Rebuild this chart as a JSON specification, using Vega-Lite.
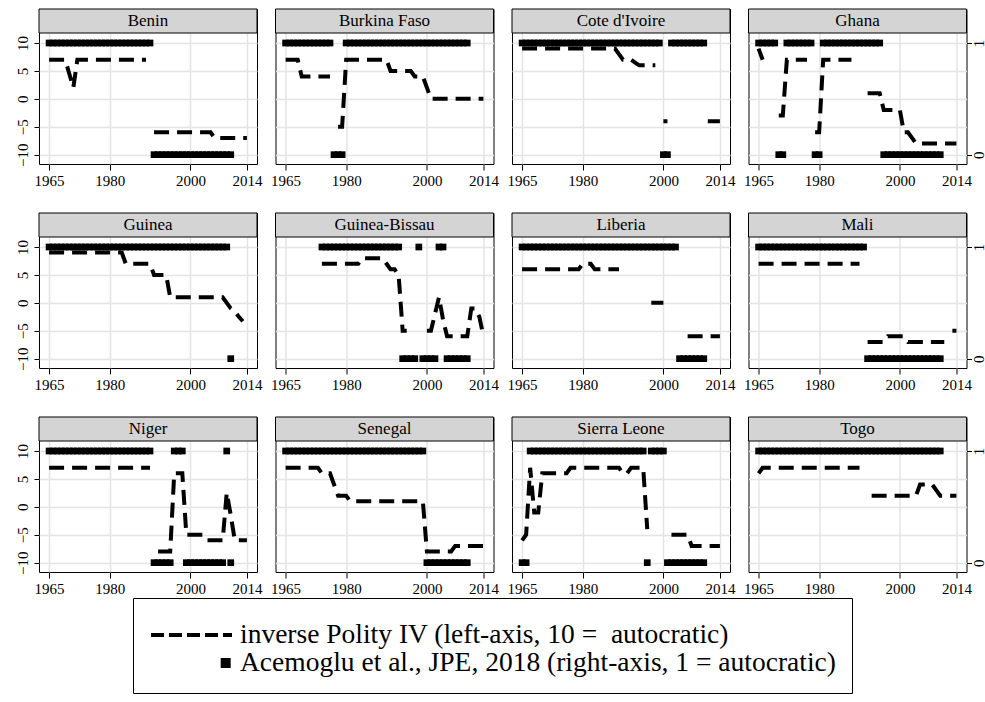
{
  "$schema": "https://vega.github.io/schema/vega-lite/v6.json",
  "padding": {"left": 14, "top": 8, "right": 0, "bottom": 0},
  "background": "white",
  "config": {
    "font": "Liberation Serif",
    "view": {"stroke": "black", "strokeWidth": 1},
    "axis": {"labelFont": "Liberation Serif", "labelFontSize": 15, "labelColor": "black", "tickColor": "black", "tickWidth": 1, "domain": false, "gridColor": "#e4e4e4", "gridWidth": 1.5},
    "text": {"font": "Liberation Serif"}
  },
  "datasets": {
    "benin": [{"year":1965,"polity":7,"acem":1},{"year":1966,"polity":7,"acem":1},{"year":1967,"polity":7,"acem":1},{"year":1968,"polity":7,"acem":1},{"year":1969,"polity":7,"acem":1},{"year":1970,"polity":4.5,"acem":1},{"year":1971,"polity":2,"acem":1},{"year":1972,"polity":7,"acem":1},{"year":1973,"polity":7,"acem":1},{"year":1974,"polity":7,"acem":1},{"year":1975,"polity":7,"acem":1},{"year":1976,"polity":7,"acem":1},{"year":1977,"polity":7,"acem":1},{"year":1978,"polity":7,"acem":1},{"year":1979,"polity":7,"acem":1},{"year":1980,"polity":7,"acem":1},{"year":1981,"polity":7,"acem":1},{"year":1982,"polity":7,"acem":1},{"year":1983,"polity":7,"acem":1},{"year":1984,"polity":7,"acem":1},{"year":1985,"polity":7,"acem":1},{"year":1986,"polity":7,"acem":1},{"year":1987,"polity":7,"acem":1},{"year":1988,"polity":7,"acem":1},{"year":1989,"polity":7,"acem":1},{"year":1990,"polity":null,"acem":1},{"year":1991,"polity":-6,"acem":0},{"year":1992,"polity":-6,"acem":0},{"year":1993,"polity":-6,"acem":0},{"year":1994,"polity":-6,"acem":0},{"year":1995,"polity":-6,"acem":0},{"year":1996,"polity":-6,"acem":0},{"year":1997,"polity":-6,"acem":0},{"year":1998,"polity":-6,"acem":0},{"year":1999,"polity":-6,"acem":0},{"year":2000,"polity":-6,"acem":0},{"year":2001,"polity":-6,"acem":0},{"year":2002,"polity":-6,"acem":0},{"year":2003,"polity":-6,"acem":0},{"year":2004,"polity":-6,"acem":0},{"year":2005,"polity":-6,"acem":0},{"year":2006,"polity":-7,"acem":0},{"year":2007,"polity":-7,"acem":0},{"year":2008,"polity":-7,"acem":0},{"year":2009,"polity":-7,"acem":0},{"year":2010,"polity":-7,"acem":0},{"year":2011,"polity":-7,"acem":null},{"year":2012,"polity":-7,"acem":null},{"year":2013,"polity":-7,"acem":null},{"year":2014,"polity":-7,"acem":null}],
    "burkina": [{"year":1965,"polity":7,"acem":1},{"year":1966,"polity":7,"acem":1},{"year":1967,"polity":7,"acem":1},{"year":1968,"polity":7,"acem":1},{"year":1969,"polity":4,"acem":1},{"year":1970,"polity":4,"acem":1},{"year":1971,"polity":4,"acem":1},{"year":1972,"polity":4,"acem":1},{"year":1973,"polity":4,"acem":1},{"year":1974,"polity":4,"acem":1},{"year":1975,"polity":4,"acem":1},{"year":1976,"polity":4,"acem":1},{"year":1977,"polity":null,"acem":0},{"year":1978,"polity":-5,"acem":0},{"year":1979,"polity":-5,"acem":0},{"year":1980,"polity":7,"acem":1},{"year":1981,"polity":7,"acem":1},{"year":1982,"polity":7,"acem":1},{"year":1983,"polity":7,"acem":1},{"year":1984,"polity":7,"acem":1},{"year":1985,"polity":7,"acem":1},{"year":1986,"polity":7,"acem":1},{"year":1987,"polity":7,"acem":1},{"year":1988,"polity":7,"acem":1},{"year":1989,"polity":7,"acem":1},{"year":1990,"polity":7,"acem":1},{"year":1991,"polity":5,"acem":1},{"year":1992,"polity":5,"acem":1},{"year":1993,"polity":5,"acem":1},{"year":1994,"polity":5,"acem":1},{"year":1995,"polity":5,"acem":1},{"year":1996,"polity":5,"acem":1},{"year":1997,"polity":4,"acem":1},{"year":1998,"polity":4,"acem":1},{"year":1999,"polity":4,"acem":1},{"year":2000,"polity":2,"acem":1},{"year":2001,"polity":0,"acem":1},{"year":2002,"polity":0,"acem":1},{"year":2003,"polity":0,"acem":1},{"year":2004,"polity":0,"acem":1},{"year":2005,"polity":0,"acem":1},{"year":2006,"polity":0,"acem":1},{"year":2007,"polity":0,"acem":1},{"year":2008,"polity":0,"acem":1},{"year":2009,"polity":0,"acem":1},{"year":2010,"polity":0,"acem":1},{"year":2011,"polity":0,"acem":null},{"year":2012,"polity":0,"acem":null},{"year":2013,"polity":0,"acem":null},{"year":2014,"polity":0,"acem":null}],
    "cote": [{"year":1965,"polity":9,"acem":1},{"year":1966,"polity":9,"acem":1},{"year":1967,"polity":9,"acem":1},{"year":1968,"polity":9,"acem":1},{"year":1969,"polity":9,"acem":1},{"year":1970,"polity":9,"acem":1},{"year":1971,"polity":9,"acem":1},{"year":1972,"polity":9,"acem":1},{"year":1973,"polity":9,"acem":1},{"year":1974,"polity":9,"acem":1},{"year":1975,"polity":9,"acem":1},{"year":1976,"polity":9,"acem":1},{"year":1977,"polity":9,"acem":1},{"year":1978,"polity":9,"acem":1},{"year":1979,"polity":9,"acem":1},{"year":1980,"polity":9,"acem":1},{"year":1981,"polity":9,"acem":1},{"year":1982,"polity":9,"acem":1},{"year":1983,"polity":9,"acem":1},{"year":1984,"polity":9,"acem":1},{"year":1985,"polity":9,"acem":1},{"year":1986,"polity":9,"acem":1},{"year":1987,"polity":9,"acem":1},{"year":1988,"polity":9,"acem":1},{"year":1989,"polity":8,"acem":1},{"year":1990,"polity":7,"acem":1},{"year":1991,"polity":7,"acem":1},{"year":1992,"polity":7,"acem":1},{"year":1993,"polity":6.5,"acem":1},{"year":1994,"polity":6,"acem":1},{"year":1995,"polity":6,"acem":1},{"year":1996,"polity":6,"acem":1},{"year":1997,"polity":6,"acem":1},{"year":1998,"polity":6,"acem":1},{"year":1999,"polity":null,"acem":1},{"year":2000,"polity":-4,"acem":0},{"year":2001,"polity":-4,"acem":0},{"year":2002,"polity":null,"acem":1},{"year":2003,"polity":null,"acem":1},{"year":2004,"polity":null,"acem":1},{"year":2005,"polity":null,"acem":1},{"year":2006,"polity":null,"acem":1},{"year":2007,"polity":null,"acem":1},{"year":2008,"polity":null,"acem":1},{"year":2009,"polity":null,"acem":1},{"year":2010,"polity":null,"acem":1},{"year":2011,"polity":-4,"acem":null},{"year":2012,"polity":-4,"acem":null},{"year":2013,"polity":-4,"acem":null},{"year":2014,"polity":-4,"acem":null}],
    "ghana": [{"year":1965,"polity":9,"acem":1},{"year":1966,"polity":7,"acem":1},{"year":1967,"polity":null,"acem":1},{"year":1968,"polity":null,"acem":1},{"year":1969,"polity":null,"acem":1},{"year":1970,"polity":-3,"acem":0},{"year":1971,"polity":-3,"acem":0},{"year":1972,"polity":7,"acem":1},{"year":1973,"polity":7,"acem":1},{"year":1974,"polity":7,"acem":1},{"year":1975,"polity":7,"acem":1},{"year":1976,"polity":7,"acem":1},{"year":1977,"polity":7,"acem":1},{"year":1978,"polity":null,"acem":1},{"year":1979,"polity":-6,"acem":0},{"year":1980,"polity":-6,"acem":0},{"year":1981,"polity":7,"acem":1},{"year":1982,"polity":7,"acem":1},{"year":1983,"polity":7,"acem":1},{"year":1984,"polity":7,"acem":1},{"year":1985,"polity":7,"acem":1},{"year":1986,"polity":7,"acem":1},{"year":1987,"polity":7,"acem":1},{"year":1988,"polity":7,"acem":1},{"year":1989,"polity":null,"acem":1},{"year":1990,"polity":null,"acem":1},{"year":1991,"polity":null,"acem":1},{"year":1992,"polity":1,"acem":1},{"year":1993,"polity":1,"acem":1},{"year":1994,"polity":1,"acem":1},{"year":1995,"polity":1,"acem":1},{"year":1996,"polity":-2,"acem":0},{"year":1997,"polity":-2,"acem":0},{"year":1998,"polity":-2,"acem":0},{"year":1999,"polity":-2,"acem":0},{"year":2000,"polity":-2,"acem":0},{"year":2001,"polity":-6,"acem":0},{"year":2002,"polity":-6,"acem":0},{"year":2003,"polity":-7,"acem":0},{"year":2004,"polity":-8,"acem":0},{"year":2005,"polity":-8,"acem":0},{"year":2006,"polity":-8,"acem":0},{"year":2007,"polity":-8,"acem":0},{"year":2008,"polity":-8,"acem":0},{"year":2009,"polity":-8,"acem":0},{"year":2010,"polity":-8,"acem":0},{"year":2011,"polity":-8,"acem":null},{"year":2012,"polity":-8,"acem":null},{"year":2013,"polity":-8,"acem":null},{"year":2014,"polity":-8,"acem":null}],
    "guinea": [{"year":1965,"polity":9,"acem":1},{"year":1966,"polity":9,"acem":1},{"year":1967,"polity":9,"acem":1},{"year":1968,"polity":9,"acem":1},{"year":1969,"polity":9,"acem":1},{"year":1970,"polity":9,"acem":1},{"year":1971,"polity":9,"acem":1},{"year":1972,"polity":9,"acem":1},{"year":1973,"polity":9,"acem":1},{"year":1974,"polity":9,"acem":1},{"year":1975,"polity":9,"acem":1},{"year":1976,"polity":9,"acem":1},{"year":1977,"polity":9,"acem":1},{"year":1978,"polity":9,"acem":1},{"year":1979,"polity":9,"acem":1},{"year":1980,"polity":9,"acem":1},{"year":1981,"polity":9,"acem":1},{"year":1982,"polity":9,"acem":1},{"year":1983,"polity":9,"acem":1},{"year":1984,"polity":7,"acem":1},{"year":1985,"polity":7,"acem":1},{"year":1986,"polity":7,"acem":1},{"year":1987,"polity":7,"acem":1},{"year":1988,"polity":7,"acem":1},{"year":1989,"polity":7,"acem":1},{"year":1990,"polity":7,"acem":1},{"year":1991,"polity":5,"acem":1},{"year":1992,"polity":5,"acem":1},{"year":1993,"polity":5,"acem":1},{"year":1994,"polity":5,"acem":1},{"year":1995,"polity":1,"acem":1},{"year":1996,"polity":1,"acem":1},{"year":1997,"polity":1,"acem":1},{"year":1998,"polity":1,"acem":1},{"year":1999,"polity":1,"acem":1},{"year":2000,"polity":1,"acem":1},{"year":2001,"polity":1,"acem":1},{"year":2002,"polity":1,"acem":1},{"year":2003,"polity":1,"acem":1},{"year":2004,"polity":1,"acem":1},{"year":2005,"polity":1,"acem":1},{"year":2006,"polity":1,"acem":1},{"year":2007,"polity":1,"acem":1},{"year":2008,"polity":1,"acem":1},{"year":2009,"polity":0,"acem":1},{"year":2010,"polity":-1,"acem":0},{"year":2011,"polity":-1.5,"acem":null},{"year":2012,"polity":-2.5,"acem":null},{"year":2013,"polity":-3.3,"acem":null}],
    "gbissau": [{"year":1974,"polity":7,"acem":1},{"year":1975,"polity":7,"acem":1},{"year":1976,"polity":7,"acem":1},{"year":1977,"polity":7,"acem":1},{"year":1978,"polity":7,"acem":1},{"year":1979,"polity":7,"acem":1},{"year":1980,"polity":7,"acem":1},{"year":1981,"polity":7,"acem":1},{"year":1982,"polity":7,"acem":1},{"year":1983,"polity":7,"acem":1},{"year":1984,"polity":8,"acem":1},{"year":1985,"polity":8,"acem":1},{"year":1986,"polity":8,"acem":1},{"year":1987,"polity":8,"acem":1},{"year":1988,"polity":8,"acem":1},{"year":1989,"polity":8,"acem":1},{"year":1990,"polity":7,"acem":1},{"year":1991,"polity":6,"acem":1},{"year":1992,"polity":6,"acem":1},{"year":1993,"polity":5,"acem":1},{"year":1994,"polity":-5,"acem":0},{"year":1995,"polity":-5,"acem":0},{"year":1996,"polity":null,"acem":0},{"year":1997,"polity":null,"acem":0},{"year":1998,"polity":null,"acem":1},{"year":1999,"polity":null,"acem":0},{"year":2000,"polity":-5,"acem":0},{"year":2001,"polity":-5,"acem":0},{"year":2002,"polity":-2,"acem":0},{"year":2003,"polity":1,"acem":1},{"year":2004,"polity":-3,"acem":1},{"year":2005,"polity":-6,"acem":0},{"year":2006,"polity":-6,"acem":0},{"year":2007,"polity":-6,"acem":0},{"year":2008,"polity":-6,"acem":0},{"year":2009,"polity":-6,"acem":0},{"year":2010,"polity":-6,"acem":0},{"year":2011,"polity":-1,"acem":null},{"year":2012,"polity":-1,"acem":null},{"year":2013,"polity":-2.5,"acem":null},{"year":2014,"polity":-6,"acem":null}],
    "liberia": [{"year":1965,"polity":6,"acem":1},{"year":1966,"polity":6,"acem":1},{"year":1967,"polity":6,"acem":1},{"year":1968,"polity":6,"acem":1},{"year":1969,"polity":6,"acem":1},{"year":1970,"polity":6,"acem":1},{"year":1971,"polity":6,"acem":1},{"year":1972,"polity":6,"acem":1},{"year":1973,"polity":6,"acem":1},{"year":1974,"polity":6,"acem":1},{"year":1975,"polity":6,"acem":1},{"year":1976,"polity":6,"acem":1},{"year":1977,"polity":6,"acem":1},{"year":1978,"polity":6,"acem":1},{"year":1979,"polity":6,"acem":1},{"year":1980,"polity":7,"acem":1},{"year":1981,"polity":7,"acem":1},{"year":1982,"polity":7,"acem":1},{"year":1983,"polity":6,"acem":1},{"year":1984,"polity":6,"acem":1},{"year":1985,"polity":6,"acem":1},{"year":1986,"polity":6,"acem":1},{"year":1987,"polity":6,"acem":1},{"year":1988,"polity":6,"acem":1},{"year":1989,"polity":6,"acem":1},{"year":1990,"polity":null,"acem":1},{"year":1991,"polity":null,"acem":1},{"year":1992,"polity":null,"acem":1},{"year":1993,"polity":null,"acem":1},{"year":1994,"polity":null,"acem":1},{"year":1995,"polity":null,"acem":1},{"year":1996,"polity":null,"acem":1},{"year":1997,"polity":0,"acem":1},{"year":1998,"polity":0,"acem":1},{"year":1999,"polity":0,"acem":1},{"year":2000,"polity":0,"acem":1},{"year":2001,"polity":null,"acem":1},{"year":2002,"polity":null,"acem":1},{"year":2003,"polity":null,"acem":1},{"year":2004,"polity":null,"acem":0},{"year":2005,"polity":null,"acem":0},{"year":2006,"polity":-6,"acem":0},{"year":2007,"polity":-6,"acem":0},{"year":2008,"polity":-6,"acem":0},{"year":2009,"polity":-6,"acem":0},{"year":2010,"polity":-6,"acem":0},{"year":2011,"polity":-6,"acem":null},{"year":2012,"polity":-6,"acem":null},{"year":2013,"polity":-6,"acem":null},{"year":2014,"polity":-6,"acem":null}],
    "mali": [{"year":1965,"polity":7,"acem":1},{"year":1966,"polity":7,"acem":1},{"year":1967,"polity":7,"acem":1},{"year":1968,"polity":7,"acem":1},{"year":1969,"polity":7,"acem":1},{"year":1970,"polity":7,"acem":1},{"year":1971,"polity":7,"acem":1},{"year":1972,"polity":7,"acem":1},{"year":1973,"polity":7,"acem":1},{"year":1974,"polity":7,"acem":1},{"year":1975,"polity":7,"acem":1},{"year":1976,"polity":7,"acem":1},{"year":1977,"polity":7,"acem":1},{"year":1978,"polity":7,"acem":1},{"year":1979,"polity":7,"acem":1},{"year":1980,"polity":7,"acem":1},{"year":1981,"polity":7,"acem":1},{"year":1982,"polity":7,"acem":1},{"year":1983,"polity":7,"acem":1},{"year":1984,"polity":7,"acem":1},{"year":1985,"polity":7,"acem":1},{"year":1986,"polity":7,"acem":1},{"year":1987,"polity":7,"acem":1},{"year":1988,"polity":7,"acem":1},{"year":1989,"polity":7,"acem":1},{"year":1990,"polity":7,"acem":1},{"year":1991,"polity":null,"acem":1},{"year":1992,"polity":-7,"acem":0},{"year":1993,"polity":-7,"acem":0},{"year":1994,"polity":-7,"acem":0},{"year":1995,"polity":-7,"acem":0},{"year":1996,"polity":-7,"acem":0},{"year":1997,"polity":-6,"acem":0},{"year":1998,"polity":-6,"acem":0},{"year":1999,"polity":-6,"acem":0},{"year":2000,"polity":-6,"acem":0},{"year":2001,"polity":-6,"acem":0},{"year":2002,"polity":-7,"acem":0},{"year":2003,"polity":-7,"acem":0},{"year":2004,"polity":-7,"acem":0},{"year":2005,"polity":-7,"acem":0},{"year":2006,"polity":-7,"acem":0},{"year":2007,"polity":-7,"acem":0},{"year":2008,"polity":-7,"acem":0},{"year":2009,"polity":-7,"acem":0},{"year":2010,"polity":-7,"acem":0},{"year":2011,"polity":-7,"acem":null},{"year":2012,"polity":null,"acem":null},{"year":2013,"polity":-5,"acem":null},{"year":2014,"polity":-5,"acem":null}],
    "niger": [{"year":1965,"polity":7,"acem":1},{"year":1966,"polity":7,"acem":1},{"year":1967,"polity":7,"acem":1},{"year":1968,"polity":7,"acem":1},{"year":1969,"polity":7,"acem":1},{"year":1970,"polity":7,"acem":1},{"year":1971,"polity":7,"acem":1},{"year":1972,"polity":7,"acem":1},{"year":1973,"polity":7,"acem":1},{"year":1974,"polity":7,"acem":1},{"year":1975,"polity":7,"acem":1},{"year":1976,"polity":7,"acem":1},{"year":1977,"polity":7,"acem":1},{"year":1978,"polity":7,"acem":1},{"year":1979,"polity":7,"acem":1},{"year":1980,"polity":7,"acem":1},{"year":1981,"polity":7,"acem":1},{"year":1982,"polity":7,"acem":1},{"year":1983,"polity":7,"acem":1},{"year":1984,"polity":7,"acem":1},{"year":1985,"polity":7,"acem":1},{"year":1986,"polity":7,"acem":1},{"year":1987,"polity":7,"acem":1},{"year":1988,"polity":7,"acem":1},{"year":1989,"polity":7,"acem":1},{"year":1990,"polity":7,"acem":1},{"year":1991,"polity":null,"acem":0},{"year":1992,"polity":-8,"acem":0},{"year":1993,"polity":-8,"acem":0},{"year":1994,"polity":-8,"acem":0},{"year":1995,"polity":-8,"acem":0},{"year":1996,"polity":6,"acem":1},{"year":1997,"polity":6,"acem":1},{"year":1998,"polity":6,"acem":1},{"year":1999,"polity":-5,"acem":0},{"year":2000,"polity":-5,"acem":0},{"year":2001,"polity":-5,"acem":0},{"year":2002,"polity":-5,"acem":0},{"year":2003,"polity":-5,"acem":0},{"year":2004,"polity":-6,"acem":0},{"year":2005,"polity":-6,"acem":0},{"year":2006,"polity":-6,"acem":0},{"year":2007,"polity":-6,"acem":0},{"year":2008,"polity":-6,"acem":0},{"year":2009,"polity":2.5,"acem":1},{"year":2010,"polity":-1.5,"acem":0},{"year":2011,"polity":-6,"acem":null},{"year":2012,"polity":-6,"acem":null},{"year":2013,"polity":-6,"acem":null},{"year":2014,"polity":-6,"acem":null}],
    "senegal": [{"year":1965,"polity":7,"acem":1},{"year":1966,"polity":7,"acem":1},{"year":1967,"polity":7,"acem":1},{"year":1968,"polity":7,"acem":1},{"year":1969,"polity":7,"acem":1},{"year":1970,"polity":7,"acem":1},{"year":1971,"polity":7,"acem":1},{"year":1972,"polity":7,"acem":1},{"year":1973,"polity":7,"acem":1},{"year":1974,"polity":6,"acem":1},{"year":1975,"polity":6,"acem":1},{"year":1976,"polity":6,"acem":1},{"year":1977,"polity":4,"acem":1},{"year":1978,"polity":2,"acem":1},{"year":1979,"polity":2,"acem":1},{"year":1980,"polity":2,"acem":1},{"year":1981,"polity":1,"acem":1},{"year":1982,"polity":1,"acem":1},{"year":1983,"polity":1,"acem":1},{"year":1984,"polity":1,"acem":1},{"year":1985,"polity":1,"acem":1},{"year":1986,"polity":1,"acem":1},{"year":1987,"polity":1,"acem":1},{"year":1988,"polity":1,"acem":1},{"year":1989,"polity":1,"acem":1},{"year":1990,"polity":1,"acem":1},{"year":1991,"polity":1,"acem":1},{"year":1992,"polity":1,"acem":1},{"year":1993,"polity":1,"acem":1},{"year":1994,"polity":1,"acem":1},{"year":1995,"polity":1,"acem":1},{"year":1996,"polity":1,"acem":1},{"year":1997,"polity":1,"acem":1},{"year":1998,"polity":1,"acem":1},{"year":1999,"polity":1,"acem":1},{"year":2000,"polity":-8,"acem":0},{"year":2001,"polity":-8,"acem":0},{"year":2002,"polity":-8,"acem":0},{"year":2003,"polity":-8,"acem":0},{"year":2004,"polity":-8,"acem":0},{"year":2005,"polity":-8,"acem":0},{"year":2006,"polity":-8,"acem":0},{"year":2007,"polity":-7,"acem":0},{"year":2008,"polity":-7,"acem":0},{"year":2009,"polity":-7,"acem":0},{"year":2010,"polity":-7,"acem":0},{"year":2011,"polity":-7,"acem":null},{"year":2012,"polity":-7,"acem":null},{"year":2013,"polity":-7,"acem":null},{"year":2014,"polity":-7,"acem":null}],
    "sierra": [{"year":1965,"polity":-6,"acem":0},{"year":1966,"polity":-5,"acem":0},{"year":1967,"polity":7,"acem":1},{"year":1968,"polity":-1,"acem":1},{"year":1969,"polity":-1,"acem":1},{"year":1970,"polity":6,"acem":1},{"year":1971,"polity":6,"acem":1},{"year":1972,"polity":6,"acem":1},{"year":1973,"polity":6,"acem":1},{"year":1974,"polity":6,"acem":1},{"year":1975,"polity":6,"acem":1},{"year":1976,"polity":6,"acem":1},{"year":1977,"polity":7,"acem":1},{"year":1978,"polity":7,"acem":1},{"year":1979,"polity":7,"acem":1},{"year":1980,"polity":7,"acem":1},{"year":1981,"polity":7,"acem":1},{"year":1982,"polity":7,"acem":1},{"year":1983,"polity":7,"acem":1},{"year":1984,"polity":7,"acem":1},{"year":1985,"polity":7,"acem":1},{"year":1986,"polity":7,"acem":1},{"year":1987,"polity":7,"acem":1},{"year":1988,"polity":7,"acem":1},{"year":1989,"polity":7,"acem":1},{"year":1990,"polity":6,"acem":1},{"year":1991,"polity":6,"acem":1},{"year":1992,"polity":7,"acem":1},{"year":1993,"polity":7,"acem":1},{"year":1994,"polity":7,"acem":1},{"year":1995,"polity":7,"acem":1},{"year":1996,"polity":-4,"acem":0},{"year":1997,"polity":null,"acem":1},{"year":1998,"polity":null,"acem":1},{"year":1999,"polity":null,"acem":1},{"year":2000,"polity":null,"acem":1},{"year":2001,"polity":null,"acem":0},{"year":2002,"polity":-5,"acem":0},{"year":2003,"polity":-5,"acem":0},{"year":2004,"polity":-5,"acem":0},{"year":2005,"polity":-5,"acem":0},{"year":2006,"polity":-5,"acem":0},{"year":2007,"polity":-7,"acem":0},{"year":2008,"polity":-7,"acem":0},{"year":2009,"polity":-7,"acem":0},{"year":2010,"polity":-7,"acem":0},{"year":2011,"polity":-7,"acem":null},{"year":2012,"polity":-7,"acem":null},{"year":2013,"polity":-7,"acem":null},{"year":2014,"polity":-7,"acem":null}],
    "togo": [{"year":1965,"polity":6,"acem":1},{"year":1966,"polity":7,"acem":1},{"year":1967,"polity":7,"acem":1},{"year":1968,"polity":7,"acem":1},{"year":1969,"polity":7,"acem":1},{"year":1970,"polity":7,"acem":1},{"year":1971,"polity":7,"acem":1},{"year":1972,"polity":7,"acem":1},{"year":1973,"polity":7,"acem":1},{"year":1974,"polity":7,"acem":1},{"year":1975,"polity":7,"acem":1},{"year":1976,"polity":7,"acem":1},{"year":1977,"polity":7,"acem":1},{"year":1978,"polity":7,"acem":1},{"year":1979,"polity":7,"acem":1},{"year":1980,"polity":7,"acem":1},{"year":1981,"polity":7,"acem":1},{"year":1982,"polity":7,"acem":1},{"year":1983,"polity":7,"acem":1},{"year":1984,"polity":7,"acem":1},{"year":1985,"polity":7,"acem":1},{"year":1986,"polity":7,"acem":1},{"year":1987,"polity":7,"acem":1},{"year":1988,"polity":7,"acem":1},{"year":1989,"polity":7,"acem":1},{"year":1990,"polity":7,"acem":1},{"year":1991,"polity":null,"acem":1},{"year":1992,"polity":null,"acem":1},{"year":1993,"polity":2,"acem":1},{"year":1994,"polity":2,"acem":1},{"year":1995,"polity":2,"acem":1},{"year":1996,"polity":2,"acem":1},{"year":1997,"polity":2,"acem":1},{"year":1998,"polity":2,"acem":1},{"year":1999,"polity":2,"acem":1},{"year":2000,"polity":2,"acem":1},{"year":2001,"polity":2,"acem":1},{"year":2002,"polity":2,"acem":1},{"year":2003,"polity":2,"acem":1},{"year":2004,"polity":2,"acem":1},{"year":2005,"polity":4,"acem":1},{"year":2006,"polity":4,"acem":1},{"year":2007,"polity":4,"acem":1},{"year":2008,"polity":4,"acem":1},{"year":2009,"polity":3,"acem":1},{"year":2010,"polity":2,"acem":1},{"year":2011,"polity":2,"acem":null},{"year":2012,"polity":2,"acem":null},{"year":2013,"polity":2,"acem":null},{"year":2014,"polity":2,"acem":null}]
  },
  "columns": 4,
  "spacing": {"row": 49, "column": 18.5},
  "bounds": "flush",
  "concat": [
    {"width": 218, "height": 155, "resolve": {"scale": {"y": "independent"}}, "layer": [
      {"data": {"name": "benin"}, "mark": {"type": "line", "strokeWidth": 4, "strokeDash": [15, 8], "strokeCap": "butt", "invalid": "break-paths-show-domains"},
       "encoding": {"x": {"field": "year", "type": "quantitative", "scale": {"domain": [1962.5, 2016.5], "nice": false, "zero": false}, "axis": {"values": [1965, 1980, 2000, 2014], "format": "d", "title": null, "tickSize": 6, "labelPadding": 3, "labelFlush": false}},
                    "y": {"field": "polity", "type": "quantitative", "scale": {"domain": [-11.67, 16.09], "nice": false, "zero": false}, "axis": {"values": [-10, -5, 0, 5, 10], "title": null, "grid": true, "tickSize": 5, "labelAngle": 270, "labelAlign": "center", "labelBaseline": "bottom", "labelPadding": 4}},
                    "color": {"datum": "inverse Polity IV (left-axis, 10 =\u00a0 autocratic)", "scale": {"domain": ["inverse Polity IV (left-axis, 10 =\u00a0 autocratic)", "Acemoglu et al., JPE, 2018 (right-axis, 1 = autocratic)"], "range": ["black", "black"]},
                      "legend": {"title": " ", "titleFontSize": 6, "titlePadding": 2, "orient": "none", "legendX": 94, "legendY": 589, "direction": "vertical", "strokeColor": "black", "fillColor": "white", "padding": 16, "labelFont": "Liberation Serif", "labelFontSize": 27.5, "labelColor": "black", "labelLimit": 0, "labelOffset": 6, "symbolSize": 6561, "clipHeight": 26, "rowPadding": 0, "symbolStrokeWidth": 4, "symbolFillColor": "black", "symbolStrokeColor": "black",
                        "encode": {"symbols": {"update": {"shape": {"signal": "datum.index === 0 ? 'stroke' : 'M0.77,-0.074H0.918V0.074H0.77Z'"}, "strokeDash": {"signal": "datum.index === 0 ? [13, 5] : []"}, "fill": {"value": "black"}, "stroke": {"value": "black"}}}}}}}},
      {"data": {"values": [{"country": "Benin"}]}, "mark": {"type": "rect", "fill": "#d4d4d4", "stroke": "black", "strokeWidth": 1}, "encoding": {"x": {"datum": 1962.5}, "x2": {"datum": 2016.5}, "y": {"datum": 11.79, "scale": {"domain": [-11.67, 16.09], "nice": false, "zero": false}, "axis": null}, "y2": {"datum": 16.09}}},
      {"data": {"values": [{"country": "Benin"}]}, "mark": {"type": "text", "fontSize": 17, "color": "black"}, "encoding": {"x": {"datum": 1989.5}, "y": {"datum": 13.94, "scale": {"domain": [-11.67, 16.09], "nice": false, "zero": false}, "axis": null}, "text": {"field": "country"}}},
      {"data": {"name": "benin"}, "transform": [{"filter": "datum.acem != null"}], "mark": {"type": "point", "shape": "square", "filled": true, "size": 45, "opacity": 1, "strokeWidth": 0},
       "encoding": {"x": {"field": "year", "type": "quantitative"}, "y": {"field": "acem", "type": "quantitative", "scale": {"domain": [-0.0835, 1.3045], "nice": false, "zero": false}, "axis": null}, "color": {"datum": "Acemoglu et al., JPE, 2018 (right-axis, 1 = autocratic)"}}}
    ]},
    {"width": 218, "height": 155, "resolve": {"scale": {"y": "independent"}}, "layer": [
      {"data": {"name": "burkina"}, "mark": {"type": "line", "strokeWidth": 4, "strokeDash": [15, 8], "strokeCap": "butt", "invalid": "break-paths-show-domains"},
       "encoding": {"x": {"field": "year", "type": "quantitative", "scale": {"domain": [1962.5, 2016.5], "nice": false, "zero": false}, "axis": {"values": [1965, 1980, 2000, 2014], "format": "d", "title": null, "tickSize": 6, "labelPadding": 3, "labelFlush": false}},
                    "y": {"field": "polity", "type": "quantitative", "scale": {"domain": [-11.67, 16.09], "nice": false, "zero": false}, "axis": {"values": [-10, -5, 0, 5, 10], "title": null, "grid": true, "ticks": false, "labels": false}},
                    "color": {"datum": "inverse Polity IV (left-axis, 10 =\u00a0 autocratic)"}}},
      {"data": {"values": [{"country": "Burkina Faso"}]}, "mark": {"type": "rect", "fill": "#d4d4d4", "stroke": "black", "strokeWidth": 1}, "encoding": {"x": {"datum": 1962.5}, "x2": {"datum": 2016.5}, "y": {"datum": 11.79, "scale": {"domain": [-11.67, 16.09], "nice": false, "zero": false}, "axis": null}, "y2": {"datum": 16.09}}},
      {"data": {"values": [{"country": "Burkina Faso"}]}, "mark": {"type": "text", "fontSize": 17, "color": "black"}, "encoding": {"x": {"datum": 1989.5}, "y": {"datum": 13.94, "scale": {"domain": [-11.67, 16.09], "nice": false, "zero": false}, "axis": null}, "text": {"field": "country"}}},
      {"data": {"name": "burkina"}, "transform": [{"filter": "datum.acem != null"}], "mark": {"type": "point", "shape": "square", "filled": true, "size": 45, "opacity": 1, "strokeWidth": 0},
       "encoding": {"x": {"field": "year", "type": "quantitative"}, "y": {"field": "acem", "type": "quantitative", "scale": {"domain": [-0.0835, 1.3045], "nice": false, "zero": false}, "axis": null}, "color": {"datum": "Acemoglu et al., JPE, 2018 (right-axis, 1 = autocratic)"}}}
    ]},
    {"width": 218, "height": 155, "resolve": {"scale": {"y": "independent"}}, "layer": [
      {"data": {"name": "cote"}, "mark": {"type": "line", "strokeWidth": 4, "strokeDash": [15, 8], "strokeCap": "butt", "invalid": "break-paths-show-domains"},
       "encoding": {"x": {"field": "year", "type": "quantitative", "scale": {"domain": [1962.5, 2016.5], "nice": false, "zero": false}, "axis": {"values": [1965, 1980, 2000, 2014], "format": "d", "title": null, "tickSize": 6, "labelPadding": 3, "labelFlush": false}},
                    "y": {"field": "polity", "type": "quantitative", "scale": {"domain": [-11.67, 16.09], "nice": false, "zero": false}, "axis": {"values": [-10, -5, 0, 5, 10], "title": null, "grid": true, "ticks": false, "labels": false}},
                    "color": {"datum": "inverse Polity IV (left-axis, 10 =\u00a0 autocratic)"}}},
      {"data": {"values": [{"country": "Cote d'Ivoire"}]}, "mark": {"type": "rect", "fill": "#d4d4d4", "stroke": "black", "strokeWidth": 1}, "encoding": {"x": {"datum": 1962.5}, "x2": {"datum": 2016.5}, "y": {"datum": 11.79, "scale": {"domain": [-11.67, 16.09], "nice": false, "zero": false}, "axis": null}, "y2": {"datum": 16.09}}},
      {"data": {"values": [{"country": "Cote d'Ivoire"}]}, "mark": {"type": "text", "fontSize": 17, "color": "black"}, "encoding": {"x": {"datum": 1989.5}, "y": {"datum": 13.94, "scale": {"domain": [-11.67, 16.09], "nice": false, "zero": false}, "axis": null}, "text": {"field": "country"}}},
      {"data": {"name": "cote"}, "transform": [{"filter": "datum.acem != null"}], "mark": {"type": "point", "shape": "square", "filled": true, "size": 45, "opacity": 1, "strokeWidth": 0},
       "encoding": {"x": {"field": "year", "type": "quantitative"}, "y": {"field": "acem", "type": "quantitative", "scale": {"domain": [-0.0835, 1.3045], "nice": false, "zero": false}, "axis": null}, "color": {"datum": "Acemoglu et al., JPE, 2018 (right-axis, 1 = autocratic)"}}}
    ]},
    {"width": 218, "height": 155, "resolve": {"scale": {"y": "independent"}}, "layer": [
      {"data": {"name": "ghana"}, "mark": {"type": "line", "strokeWidth": 4, "strokeDash": [15, 8], "strokeCap": "butt", "invalid": "break-paths-show-domains"},
       "encoding": {"x": {"field": "year", "type": "quantitative", "scale": {"domain": [1962.5, 2016.5], "nice": false, "zero": false}, "axis": {"values": [1965, 1980, 2000, 2014], "format": "d", "title": null, "tickSize": 6, "labelPadding": 3, "labelFlush": false}},
                    "y": {"field": "polity", "type": "quantitative", "scale": {"domain": [-11.67, 16.09], "nice": false, "zero": false}, "axis": {"values": [-10, -5, 0, 5, 10], "title": null, "grid": true, "ticks": false, "labels": false}},
                    "color": {"datum": "inverse Polity IV (left-axis, 10 =\u00a0 autocratic)"}}},
      {"data": {"values": [{"country": "Ghana"}]}, "mark": {"type": "rect", "fill": "#d4d4d4", "stroke": "black", "strokeWidth": 1}, "encoding": {"x": {"datum": 1962.5}, "x2": {"datum": 2016.5}, "y": {"datum": 11.79, "scale": {"domain": [-11.67, 16.09], "nice": false, "zero": false}, "axis": null}, "y2": {"datum": 16.09}}},
      {"data": {"values": [{"country": "Ghana"}]}, "mark": {"type": "text", "fontSize": 17, "color": "black"}, "encoding": {"x": {"datum": 1989.5}, "y": {"datum": 13.94, "scale": {"domain": [-11.67, 16.09], "nice": false, "zero": false}, "axis": null}, "text": {"field": "country"}}},
      {"data": {"name": "ghana"}, "transform": [{"filter": "datum.acem != null"}], "mark": {"type": "point", "shape": "square", "filled": true, "size": 45, "opacity": 1, "strokeWidth": 0},
       "encoding": {"x": {"field": "year", "type": "quantitative"}, "y": {"field": "acem", "type": "quantitative", "scale": {"domain": [-0.0835, 1.3045], "nice": false, "zero": false}, "axis": {"orient": "right", "values": [0, 1], "format": "d", "title": null, "grid": false, "tickSize": 5, "labelAngle": 270, "labelAlign": "center", "labelBaseline": "top", "labelPadding": 0}}, "color": {"datum": "Acemoglu et al., JPE, 2018 (right-axis, 1 = autocratic)"}}}
    ]},
    {"width": 218, "height": 155, "resolve": {"scale": {"y": "independent"}}, "layer": [
      {"data": {"name": "guinea"}, "mark": {"type": "line", "strokeWidth": 4, "strokeDash": [15, 8], "strokeCap": "butt", "invalid": "break-paths-show-domains"},
       "encoding": {"x": {"field": "year", "type": "quantitative", "scale": {"domain": [1962.5, 2016.5], "nice": false, "zero": false}, "axis": {"values": [1965, 1980, 2000, 2014], "format": "d", "title": null, "tickSize": 6, "labelPadding": 3, "labelFlush": false}},
                    "y": {"field": "polity", "type": "quantitative", "scale": {"domain": [-11.67, 16.09], "nice": false, "zero": false}, "axis": {"values": [-10, -5, 0, 5, 10], "title": null, "grid": true, "tickSize": 5, "labelAngle": 270, "labelAlign": "center", "labelBaseline": "bottom", "labelPadding": 4}},
                    "color": {"datum": "inverse Polity IV (left-axis, 10 =\u00a0 autocratic)"}}},
      {"data": {"values": [{"country": "Guinea"}]}, "mark": {"type": "rect", "fill": "#d4d4d4", "stroke": "black", "strokeWidth": 1}, "encoding": {"x": {"datum": 1962.5}, "x2": {"datum": 2016.5}, "y": {"datum": 11.79, "scale": {"domain": [-11.67, 16.09], "nice": false, "zero": false}, "axis": null}, "y2": {"datum": 16.09}}},
      {"data": {"values": [{"country": "Guinea"}]}, "mark": {"type": "text", "fontSize": 17, "color": "black"}, "encoding": {"x": {"datum": 1989.5}, "y": {"datum": 13.94, "scale": {"domain": [-11.67, 16.09], "nice": false, "zero": false}, "axis": null}, "text": {"field": "country"}}},
      {"data": {"name": "guinea"}, "transform": [{"filter": "datum.acem != null"}], "mark": {"type": "point", "shape": "square", "filled": true, "size": 45, "opacity": 1, "strokeWidth": 0},
       "encoding": {"x": {"field": "year", "type": "quantitative"}, "y": {"field": "acem", "type": "quantitative", "scale": {"domain": [-0.0835, 1.3045], "nice": false, "zero": false}, "axis": null}, "color": {"datum": "Acemoglu et al., JPE, 2018 (right-axis, 1 = autocratic)"}}}
    ]},
    {"width": 218, "height": 155, "resolve": {"scale": {"y": "independent"}}, "layer": [
      {"data": {"name": "gbissau"}, "mark": {"type": "line", "strokeWidth": 4, "strokeDash": [15, 8], "strokeCap": "butt", "invalid": "break-paths-show-domains"},
       "encoding": {"x": {"field": "year", "type": "quantitative", "scale": {"domain": [1962.5, 2016.5], "nice": false, "zero": false}, "axis": {"values": [1965, 1980, 2000, 2014], "format": "d", "title": null, "tickSize": 6, "labelPadding": 3, "labelFlush": false}},
                    "y": {"field": "polity", "type": "quantitative", "scale": {"domain": [-11.67, 16.09], "nice": false, "zero": false}, "axis": {"values": [-10, -5, 0, 5, 10], "title": null, "grid": true, "ticks": false, "labels": false}},
                    "color": {"datum": "inverse Polity IV (left-axis, 10 =\u00a0 autocratic)"}}},
      {"data": {"values": [{"country": "Guinea-Bissau"}]}, "mark": {"type": "rect", "fill": "#d4d4d4", "stroke": "black", "strokeWidth": 1}, "encoding": {"x": {"datum": 1962.5}, "x2": {"datum": 2016.5}, "y": {"datum": 11.79, "scale": {"domain": [-11.67, 16.09], "nice": false, "zero": false}, "axis": null}, "y2": {"datum": 16.09}}},
      {"data": {"values": [{"country": "Guinea-Bissau"}]}, "mark": {"type": "text", "fontSize": 17, "color": "black"}, "encoding": {"x": {"datum": 1989.5}, "y": {"datum": 13.94, "scale": {"domain": [-11.67, 16.09], "nice": false, "zero": false}, "axis": null}, "text": {"field": "country"}}},
      {"data": {"name": "gbissau"}, "transform": [{"filter": "datum.acem != null"}], "mark": {"type": "point", "shape": "square", "filled": true, "size": 45, "opacity": 1, "strokeWidth": 0},
       "encoding": {"x": {"field": "year", "type": "quantitative"}, "y": {"field": "acem", "type": "quantitative", "scale": {"domain": [-0.0835, 1.3045], "nice": false, "zero": false}, "axis": null}, "color": {"datum": "Acemoglu et al., JPE, 2018 (right-axis, 1 = autocratic)"}}}
    ]},
    {"width": 218, "height": 155, "resolve": {"scale": {"y": "independent"}}, "layer": [
      {"data": {"name": "liberia"}, "mark": {"type": "line", "strokeWidth": 4, "strokeDash": [15, 8], "strokeCap": "butt", "invalid": "break-paths-show-domains"},
       "encoding": {"x": {"field": "year", "type": "quantitative", "scale": {"domain": [1962.5, 2016.5], "nice": false, "zero": false}, "axis": {"values": [1965, 1980, 2000, 2014], "format": "d", "title": null, "tickSize": 6, "labelPadding": 3, "labelFlush": false}},
                    "y": {"field": "polity", "type": "quantitative", "scale": {"domain": [-11.67, 16.09], "nice": false, "zero": false}, "axis": {"values": [-10, -5, 0, 5, 10], "title": null, "grid": true, "ticks": false, "labels": false}},
                    "color": {"datum": "inverse Polity IV (left-axis, 10 =\u00a0 autocratic)"}}},
      {"data": {"values": [{"country": "Liberia"}]}, "mark": {"type": "rect", "fill": "#d4d4d4", "stroke": "black", "strokeWidth": 1}, "encoding": {"x": {"datum": 1962.5}, "x2": {"datum": 2016.5}, "y": {"datum": 11.79, "scale": {"domain": [-11.67, 16.09], "nice": false, "zero": false}, "axis": null}, "y2": {"datum": 16.09}}},
      {"data": {"values": [{"country": "Liberia"}]}, "mark": {"type": "text", "fontSize": 17, "color": "black"}, "encoding": {"x": {"datum": 1989.5}, "y": {"datum": 13.94, "scale": {"domain": [-11.67, 16.09], "nice": false, "zero": false}, "axis": null}, "text": {"field": "country"}}},
      {"data": {"name": "liberia"}, "transform": [{"filter": "datum.acem != null"}], "mark": {"type": "point", "shape": "square", "filled": true, "size": 45, "opacity": 1, "strokeWidth": 0},
       "encoding": {"x": {"field": "year", "type": "quantitative"}, "y": {"field": "acem", "type": "quantitative", "scale": {"domain": [-0.0835, 1.3045], "nice": false, "zero": false}, "axis": null}, "color": {"datum": "Acemoglu et al., JPE, 2018 (right-axis, 1 = autocratic)"}}}
    ]},
    {"width": 218, "height": 155, "resolve": {"scale": {"y": "independent"}}, "layer": [
      {"data": {"name": "mali"}, "mark": {"type": "line", "strokeWidth": 4, "strokeDash": [15, 8], "strokeCap": "butt", "invalid": "break-paths-show-domains"},
       "encoding": {"x": {"field": "year", "type": "quantitative", "scale": {"domain": [1962.5, 2016.5], "nice": false, "zero": false}, "axis": {"values": [1965, 1980, 2000, 2014], "format": "d", "title": null, "tickSize": 6, "labelPadding": 3, "labelFlush": false}},
                    "y": {"field": "polity", "type": "quantitative", "scale": {"domain": [-11.67, 16.09], "nice": false, "zero": false}, "axis": {"values": [-10, -5, 0, 5, 10], "title": null, "grid": true, "ticks": false, "labels": false}},
                    "color": {"datum": "inverse Polity IV (left-axis, 10 =\u00a0 autocratic)"}}},
      {"data": {"values": [{"country": "Mali"}]}, "mark": {"type": "rect", "fill": "#d4d4d4", "stroke": "black", "strokeWidth": 1}, "encoding": {"x": {"datum": 1962.5}, "x2": {"datum": 2016.5}, "y": {"datum": 11.79, "scale": {"domain": [-11.67, 16.09], "nice": false, "zero": false}, "axis": null}, "y2": {"datum": 16.09}}},
      {"data": {"values": [{"country": "Mali"}]}, "mark": {"type": "text", "fontSize": 17, "color": "black"}, "encoding": {"x": {"datum": 1989.5}, "y": {"datum": 13.94, "scale": {"domain": [-11.67, 16.09], "nice": false, "zero": false}, "axis": null}, "text": {"field": "country"}}},
      {"data": {"name": "mali"}, "transform": [{"filter": "datum.acem != null"}], "mark": {"type": "point", "shape": "square", "filled": true, "size": 45, "opacity": 1, "strokeWidth": 0},
       "encoding": {"x": {"field": "year", "type": "quantitative"}, "y": {"field": "acem", "type": "quantitative", "scale": {"domain": [-0.0835, 1.3045], "nice": false, "zero": false}, "axis": {"orient": "right", "values": [0, 1], "format": "d", "title": null, "grid": false, "tickSize": 5, "labelAngle": 270, "labelAlign": "center", "labelBaseline": "top", "labelPadding": 0}}, "color": {"datum": "Acemoglu et al., JPE, 2018 (right-axis, 1 = autocratic)"}}}
    ]},
    {"width": 218, "height": 155, "resolve": {"scale": {"y": "independent"}}, "layer": [
      {"data": {"name": "niger"}, "mark": {"type": "line", "strokeWidth": 4, "strokeDash": [15, 8], "strokeCap": "butt", "invalid": "break-paths-show-domains"},
       "encoding": {"x": {"field": "year", "type": "quantitative", "scale": {"domain": [1962.5, 2016.5], "nice": false, "zero": false}, "axis": {"values": [1965, 1980, 2000, 2014], "format": "d", "title": null, "tickSize": 6, "labelPadding": 3, "labelFlush": false}},
                    "y": {"field": "polity", "type": "quantitative", "scale": {"domain": [-11.67, 16.09], "nice": false, "zero": false}, "axis": {"values": [-10, -5, 0, 5, 10], "title": null, "grid": true, "tickSize": 5, "labelAngle": 270, "labelAlign": "center", "labelBaseline": "bottom", "labelPadding": 4}},
                    "color": {"datum": "inverse Polity IV (left-axis, 10 =\u00a0 autocratic)"}}},
      {"data": {"values": [{"country": "Niger"}]}, "mark": {"type": "rect", "fill": "#d4d4d4", "stroke": "black", "strokeWidth": 1}, "encoding": {"x": {"datum": 1962.5}, "x2": {"datum": 2016.5}, "y": {"datum": 11.79, "scale": {"domain": [-11.67, 16.09], "nice": false, "zero": false}, "axis": null}, "y2": {"datum": 16.09}}},
      {"data": {"values": [{"country": "Niger"}]}, "mark": {"type": "text", "fontSize": 17, "color": "black"}, "encoding": {"x": {"datum": 1989.5}, "y": {"datum": 13.94, "scale": {"domain": [-11.67, 16.09], "nice": false, "zero": false}, "axis": null}, "text": {"field": "country"}}},
      {"data": {"name": "niger"}, "transform": [{"filter": "datum.acem != null"}], "mark": {"type": "point", "shape": "square", "filled": true, "size": 45, "opacity": 1, "strokeWidth": 0},
       "encoding": {"x": {"field": "year", "type": "quantitative"}, "y": {"field": "acem", "type": "quantitative", "scale": {"domain": [-0.0835, 1.3045], "nice": false, "zero": false}, "axis": null}, "color": {"datum": "Acemoglu et al., JPE, 2018 (right-axis, 1 = autocratic)"}}}
    ]},
    {"width": 218, "height": 155, "resolve": {"scale": {"y": "independent"}}, "layer": [
      {"data": {"name": "senegal"}, "mark": {"type": "line", "strokeWidth": 4, "strokeDash": [15, 8], "strokeCap": "butt", "invalid": "break-paths-show-domains"},
       "encoding": {"x": {"field": "year", "type": "quantitative", "scale": {"domain": [1962.5, 2016.5], "nice": false, "zero": false}, "axis": {"values": [1965, 1980, 2000, 2014], "format": "d", "title": null, "tickSize": 6, "labelPadding": 3, "labelFlush": false}},
                    "y": {"field": "polity", "type": "quantitative", "scale": {"domain": [-11.67, 16.09], "nice": false, "zero": false}, "axis": {"values": [-10, -5, 0, 5, 10], "title": null, "grid": true, "ticks": false, "labels": false}},
                    "color": {"datum": "inverse Polity IV (left-axis, 10 =\u00a0 autocratic)"}}},
      {"data": {"values": [{"country": "Senegal"}]}, "mark": {"type": "rect", "fill": "#d4d4d4", "stroke": "black", "strokeWidth": 1}, "encoding": {"x": {"datum": 1962.5}, "x2": {"datum": 2016.5}, "y": {"datum": 11.79, "scale": {"domain": [-11.67, 16.09], "nice": false, "zero": false}, "axis": null}, "y2": {"datum": 16.09}}},
      {"data": {"values": [{"country": "Senegal"}]}, "mark": {"type": "text", "fontSize": 17, "color": "black"}, "encoding": {"x": {"datum": 1989.5}, "y": {"datum": 13.94, "scale": {"domain": [-11.67, 16.09], "nice": false, "zero": false}, "axis": null}, "text": {"field": "country"}}},
      {"data": {"name": "senegal"}, "transform": [{"filter": "datum.acem != null"}], "mark": {"type": "point", "shape": "square", "filled": true, "size": 45, "opacity": 1, "strokeWidth": 0},
       "encoding": {"x": {"field": "year", "type": "quantitative"}, "y": {"field": "acem", "type": "quantitative", "scale": {"domain": [-0.0835, 1.3045], "nice": false, "zero": false}, "axis": null}, "color": {"datum": "Acemoglu et al., JPE, 2018 (right-axis, 1 = autocratic)"}}}
    ]},
    {"width": 218, "height": 155, "resolve": {"scale": {"y": "independent"}}, "layer": [
      {"data": {"name": "sierra"}, "mark": {"type": "line", "strokeWidth": 4, "strokeDash": [15, 8], "strokeCap": "butt", "invalid": "break-paths-show-domains"},
       "encoding": {"x": {"field": "year", "type": "quantitative", "scale": {"domain": [1962.5, 2016.5], "nice": false, "zero": false}, "axis": {"values": [1965, 1980, 2000, 2014], "format": "d", "title": null, "tickSize": 6, "labelPadding": 3, "labelFlush": false}},
                    "y": {"field": "polity", "type": "quantitative", "scale": {"domain": [-11.67, 16.09], "nice": false, "zero": false}, "axis": {"values": [-10, -5, 0, 5, 10], "title": null, "grid": true, "ticks": false, "labels": false}},
                    "color": {"datum": "inverse Polity IV (left-axis, 10 =\u00a0 autocratic)"}}},
      {"data": {"values": [{"country": "Sierra Leone"}]}, "mark": {"type": "rect", "fill": "#d4d4d4", "stroke": "black", "strokeWidth": 1}, "encoding": {"x": {"datum": 1962.5}, "x2": {"datum": 2016.5}, "y": {"datum": 11.79, "scale": {"domain": [-11.67, 16.09], "nice": false, "zero": false}, "axis": null}, "y2": {"datum": 16.09}}},
      {"data": {"values": [{"country": "Sierra Leone"}]}, "mark": {"type": "text", "fontSize": 17, "color": "black"}, "encoding": {"x": {"datum": 1989.5}, "y": {"datum": 13.94, "scale": {"domain": [-11.67, 16.09], "nice": false, "zero": false}, "axis": null}, "text": {"field": "country"}}},
      {"data": {"name": "sierra"}, "transform": [{"filter": "datum.acem != null"}], "mark": {"type": "point", "shape": "square", "filled": true, "size": 45, "opacity": 1, "strokeWidth": 0},
       "encoding": {"x": {"field": "year", "type": "quantitative"}, "y": {"field": "acem", "type": "quantitative", "scale": {"domain": [-0.0835, 1.3045], "nice": false, "zero": false}, "axis": null}, "color": {"datum": "Acemoglu et al., JPE, 2018 (right-axis, 1 = autocratic)"}}}
    ]},
    {"width": 218, "height": 155, "resolve": {"scale": {"y": "independent"}}, "layer": [
      {"data": {"name": "togo"}, "mark": {"type": "line", "strokeWidth": 4, "strokeDash": [15, 8], "strokeCap": "butt", "invalid": "break-paths-show-domains"},
       "encoding": {"x": {"field": "year", "type": "quantitative", "scale": {"domain": [1962.5, 2016.5], "nice": false, "zero": false}, "axis": {"values": [1965, 1980, 2000, 2014], "format": "d", "title": null, "tickSize": 6, "labelPadding": 3, "labelFlush": false}},
                    "y": {"field": "polity", "type": "quantitative", "scale": {"domain": [-11.67, 16.09], "nice": false, "zero": false}, "axis": {"values": [-10, -5, 0, 5, 10], "title": null, "grid": true, "ticks": false, "labels": false}},
                    "color": {"datum": "inverse Polity IV (left-axis, 10 =\u00a0 autocratic)"}}},
      {"data": {"values": [{"country": "Togo"}]}, "mark": {"type": "rect", "fill": "#d4d4d4", "stroke": "black", "strokeWidth": 1}, "encoding": {"x": {"datum": 1962.5}, "x2": {"datum": 2016.5}, "y": {"datum": 11.79, "scale": {"domain": [-11.67, 16.09], "nice": false, "zero": false}, "axis": null}, "y2": {"datum": 16.09}}},
      {"data": {"values": [{"country": "Togo"}]}, "mark": {"type": "text", "fontSize": 17, "color": "black"}, "encoding": {"x": {"datum": 1989.5}, "y": {"datum": 13.94, "scale": {"domain": [-11.67, 16.09], "nice": false, "zero": false}, "axis": null}, "text": {"field": "country"}}},
      {"data": {"name": "togo"}, "transform": [{"filter": "datum.acem != null"}], "mark": {"type": "point", "shape": "square", "filled": true, "size": 45, "opacity": 1, "strokeWidth": 0},
       "encoding": {"x": {"field": "year", "type": "quantitative"}, "y": {"field": "acem", "type": "quantitative", "scale": {"domain": [-0.0835, 1.3045], "nice": false, "zero": false}, "axis": {"orient": "right", "values": [0, 1], "format": "d", "title": null, "grid": false, "tickSize": 5, "labelAngle": 270, "labelAlign": "center", "labelBaseline": "top", "labelPadding": 0}}, "color": {"datum": "Acemoglu et al., JPE, 2018 (right-axis, 1 = autocratic)"}}}
    ]}
  ]
}
